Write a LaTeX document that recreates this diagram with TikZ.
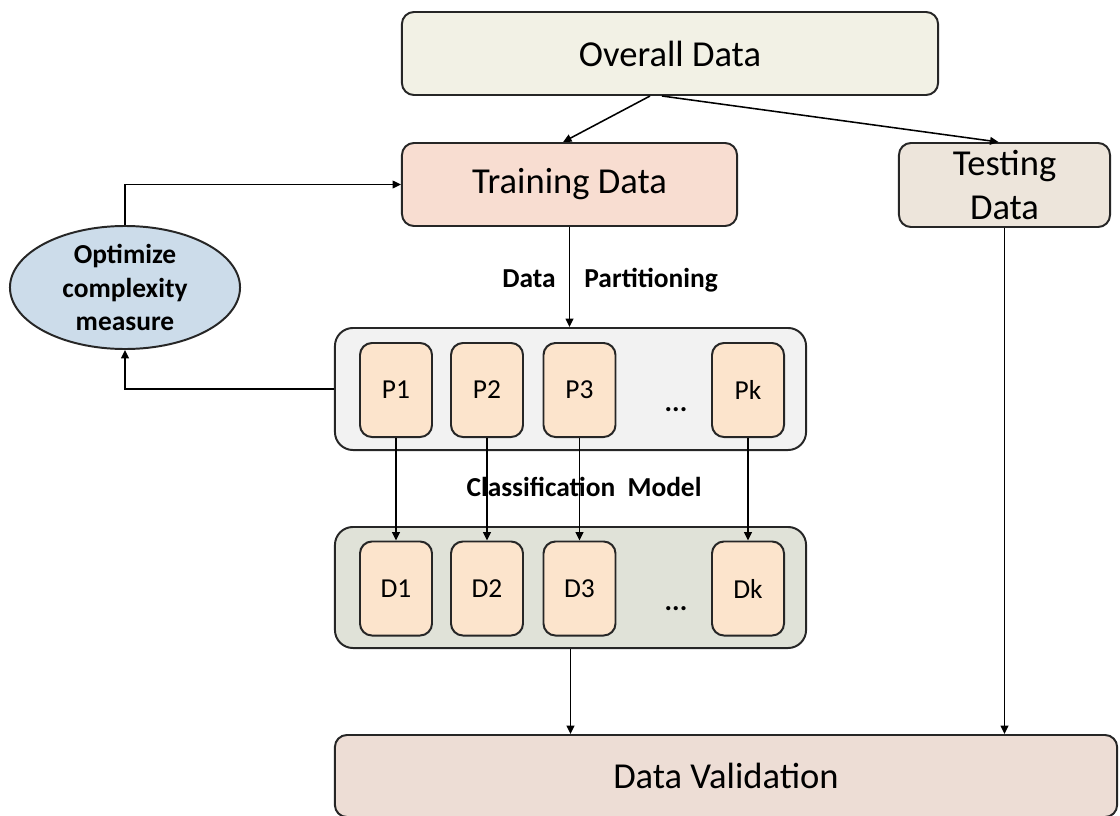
\documentclass[tikz,border=0pt]{standalone}
\usepackage{fontspec}
\setmainfont{Carlito}
\usetikzlibrary{arrows.meta,shapes.geometric}
\definecolor{cOverall}{HTML}{F2F1E5}
\definecolor{cTrain}{HTML}{F8DDD1}
\definecolor{cTest}{HTML}{EDE5DB}
\definecolor{cEll}{HTML}{CCDCEA}
\definecolor{cPG}{HTML}{F2F2F2}
\definecolor{cBox}{HTML}{FCE4CC}
\definecolor{cDG}{HTML}{E0E2D8}
\definecolor{cVal}{HTML}{EDDDD5}
\tikzset{
  bigbox/.style={draw=black!85, line width=1.4pt, rounded corners=0.3cm, inner sep=0pt, align=center, font=\fontsize{26}{31}\selectfont},
  groupbox/.style={draw=black!85, line width=1.4pt, rounded corners=0.45cm, inner sep=0pt, minimum width=11.775cm},
  smallbox/.style={draw=black!85, line width=1.4pt, rounded corners=0.3cm, fill=cBox, inner sep=0pt, minimum width=1.8cm, minimum height=2.35cm, font=\fontsize{19.5}{22}\selectfont},
  boldlbl/.style={font=\bfseries\fontsize{19.5}{23.5}\selectfont, inner sep=0pt},
  dotslbl/.style={font=\bfseries\fontsize{20}{22}\selectfont, inner sep=0pt},
  arr/.style={draw=black, line width=1.1pt, -{Triangle[length=6pt,width=5.5pt]}}
}
\begin{document}
\begin{tikzpicture}[x=0.025cm,y=-0.025cm]
\useasboundingbox (0,0) rectangle (1120,816);
% main boxes
\node[bigbox, fill=cOverall, minimum width=13.4cm, minimum height=2.075cm] (O) at (670,53.5) {Overall Data};
\node[bigbox, fill=cTrain, minimum width=8.375cm, minimum height=2.075cm] (Tr) at (569.5,184.5) {Training Data};
\node[bigbox, fill=cTest, minimum width=5.275cm, minimum height=2.1cm] (Te) at (1004.5,185) {Testing\\Data};
\node[draw=black!85, line width=1.4pt, fill=cEll, ellipse, inner sep=0pt, minimum width=5.75cm, minimum height=3.075cm, align=center, font=\bfseries\fontsize{19.5}{23.5}\selectfont] (E) at (125,287.5) {Optimize\\complexity\\measure};
% groups
\node[groupbox, fill=cPG, minimum height=3.05cm] (PG) at (570.5,389) {};
\node[groupbox, fill=cDG, minimum height=3.025cm] (DG) at (570.5,587.5) {};
% partitions
\node[smallbox] (P1) at (396,390) {P1};
\node[smallbox] (P2) at (487,390) {P2};
\node[smallbox] (P3) at (579.5,390) {P3};
\node[smallbox] (Pk) at (748,390) {Pk};
\node[dotslbl] (pdots) at (676,410) {...};
\node[smallbox] (D1) at (396,588.5) {D1};
\node[smallbox] (D2) at (487,588.5) {D2};
\node[smallbox] (D3) at (579.5,588.5) {D3};
\node[smallbox] (Dk) at (748,588.5) {Dk};
\node[dotslbl] (ddots) at (676,609) {...};
% validation
\node[bigbox, fill=cVal, minimum width=19.55cm, minimum height=2.05cm] (V) at (726,776) {Data Validation};
% labels
\node[boldlbl] (lpart) at (610,280) {Data\hspace{1.05em}Partitioning};
\node[boldlbl] (lcls) at (584,487) {Classification\hspace{0.45em}Model};
% connectors
\draw[arr] ([xshift=-0.5cm]O.south) -- ([xshift=-0.16cm]Tr.north);
\draw[arr] ([xshift=-0.2cm]O.south) -- ([xshift=-0.15cm]Te.north);
\draw[arr] (Tr.south) -- (Tr.south |- PG.north);
\draw[arr] (E.north) |- (Tr.west);
\draw[arr] (PG.west) -| (E.south);
\draw[arr] (P1.south) -- (D1.north);
\draw[arr] (P2.south) -- (D2.north);
\draw[arr] (P3.south) -- (D3.north);
\draw[arr] (Pk.south) -- (Dk.north);
\draw[arr] (DG.south) -- (DG.south |- V.north);
\draw[arr] (Te.south) -- (Te.south |- V.north);
\end{tikzpicture}
\end{document}
